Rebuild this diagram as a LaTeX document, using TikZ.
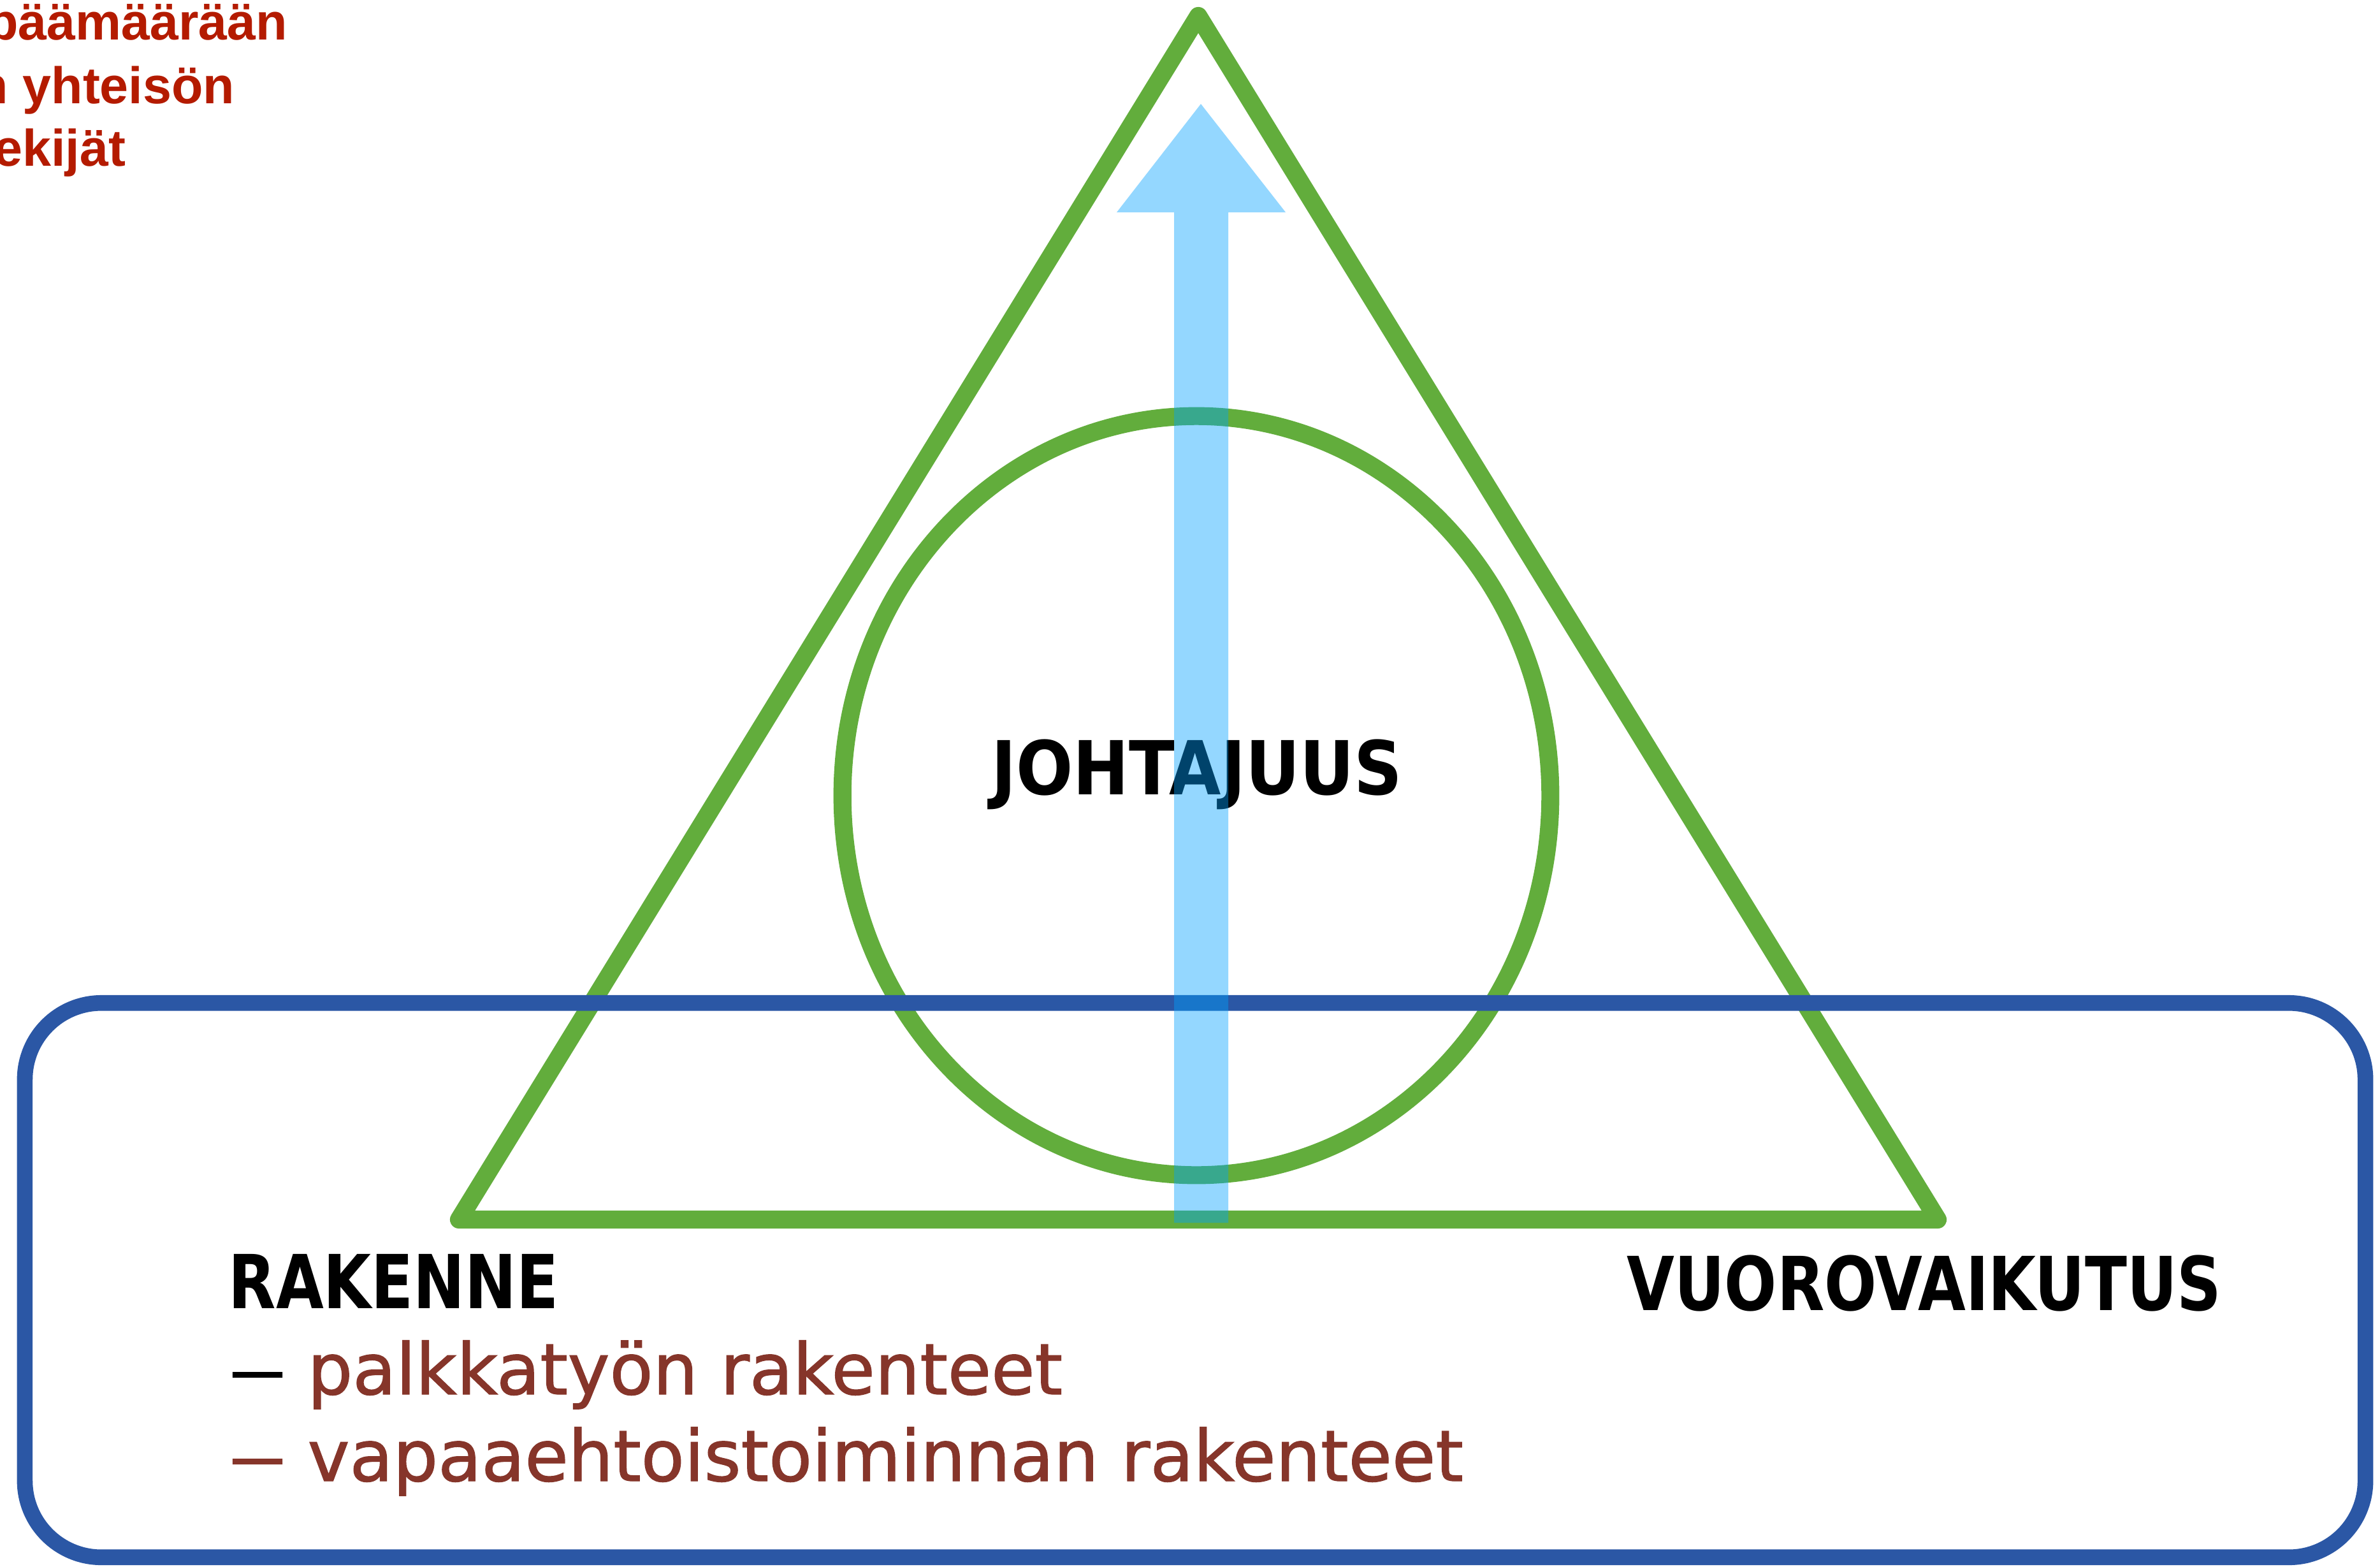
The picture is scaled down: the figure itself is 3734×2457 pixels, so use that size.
\documentclass[tikz,border=0pt]{standalone}
\usepackage{fontspec}
\usetikzlibrary{shapes.geometric}
\newfontfamily\capfont[FakeStretch=0.92]{DejaVu Sans Condensed Bold}
\newfontfamily\capwidefont{DejaVu Sans Condensed Bold}
\newfontfamily\subfont[FakeBold=1.2]{DejaVu Sans}
\newfontfamily\redfont{Liberation Sans Bold}
\definecolor{chalkgreen}{RGB}{98,173,60}
\definecolor{boxblue}{RGB}{43,87,165}
\definecolor{arrowblue}{RGB}{0,162,255}
\definecolor{brownred}{RGB}{134,53,42}
\definecolor{topred}{RGB}{180,27,0}
\tikzset{
  chalk/.style={draw=chalkgreen, line width=8pt, line join=round, line cap=round},
  capslabel/.style={inner sep=0pt, font=\capfont\fontsize{33.2pt}{40pt}\selectfont, text=black},
  sublabel/.style={inner sep=0pt, font=\subfont\fontsize{31.6pt}{38pt}\selectfont, text=brownred},
  redlabel/.style={inner sep=0pt, font=\redfont\fontsize{23pt}{28pt}\selectfont, text=topred, anchor=base east},
  upshape/.style={fill=arrowblue, fill opacity=0.42}
}
\begin{document}
\begin{tikzpicture}[x=0.01cm, y=-0.01cm]
\useasboundingbox (0,0) rectangle (3734,2457);
\fill[white] (0,0) rectangle (3734,2457);

% top-left red text (cut off at the left edge, as in the reference)
\node[redlabel] (t1) at (452,62) {päämäärään};
\node[redlabel] (t2) at (369,162) {n yhteisön};
\node[redlabel] (t3) at (198,260) {ekijät};

% green triangle
\coordinate (apex) at (1880,25);
\coordinate (bl) at (720,1913);
\coordinate (br) at (3040,1913);
\draw[chalk] (apex) -- (bl) -- (br) -- cycle;

% green circle
\node[ellipse, chalk, minimum width=11.10cm, minimum height=11.90cm, inner sep=0pt] (circ) at (1877,1248) {};

% blue rounded box
\node[draw=boxblue, line width=7pt, rounded corners=1.2cm, minimum width=36.70cm, minimum height=8.69cm, inner sep=0pt] (box) at (1875,2008) {};

% labels
\node[capslabel, font=\capwidefont\fontsize{33.2pt}{40pt}\selectfont, anchor=base] (joht) at (1878,1246) {JOHTAJUUS};
\node[capslabel, anchor=base west] (rak) at (358,2052) {RAKENNE};
\node[capslabel, anchor=base west] (vuo) at (2552,2055) {VUOROVAIKUTUS};
\node[sublabel, anchor=base west, text=black] (d1) at (356,2187) {\scalebox{1.7}[1]{–}};
\node[sublabel, anchor=base west] (s1) at (482,2187) {palkkatyön rakenteet};
\node[sublabel, anchor=base west] (d2) at (356,2323) {\scalebox{1.7}[1]{–}};
\node[sublabel, anchor=base west] (s2) at (482,2323) {vapaaehtoistoiminnan rakenteet};

% light blue upward arrow (drawn on top, translucent)
\coordinate (tip) at (1884,163);
\coordinate (hl) at (1752,333);
\coordinate (hr) at (2017,333);
\coordinate (sl) at (1842,333);
\coordinate (sr) at (1927,333);
\coordinate (bl2) at (1842,1918);
\coordinate (br2) at (1927,1918);
\path[upshape] (tip) -- (hr) -- (sr) -- (br2) -- (bl2) -- (sl) -- (hl) -- cycle;
\end{tikzpicture}
\end{document}
